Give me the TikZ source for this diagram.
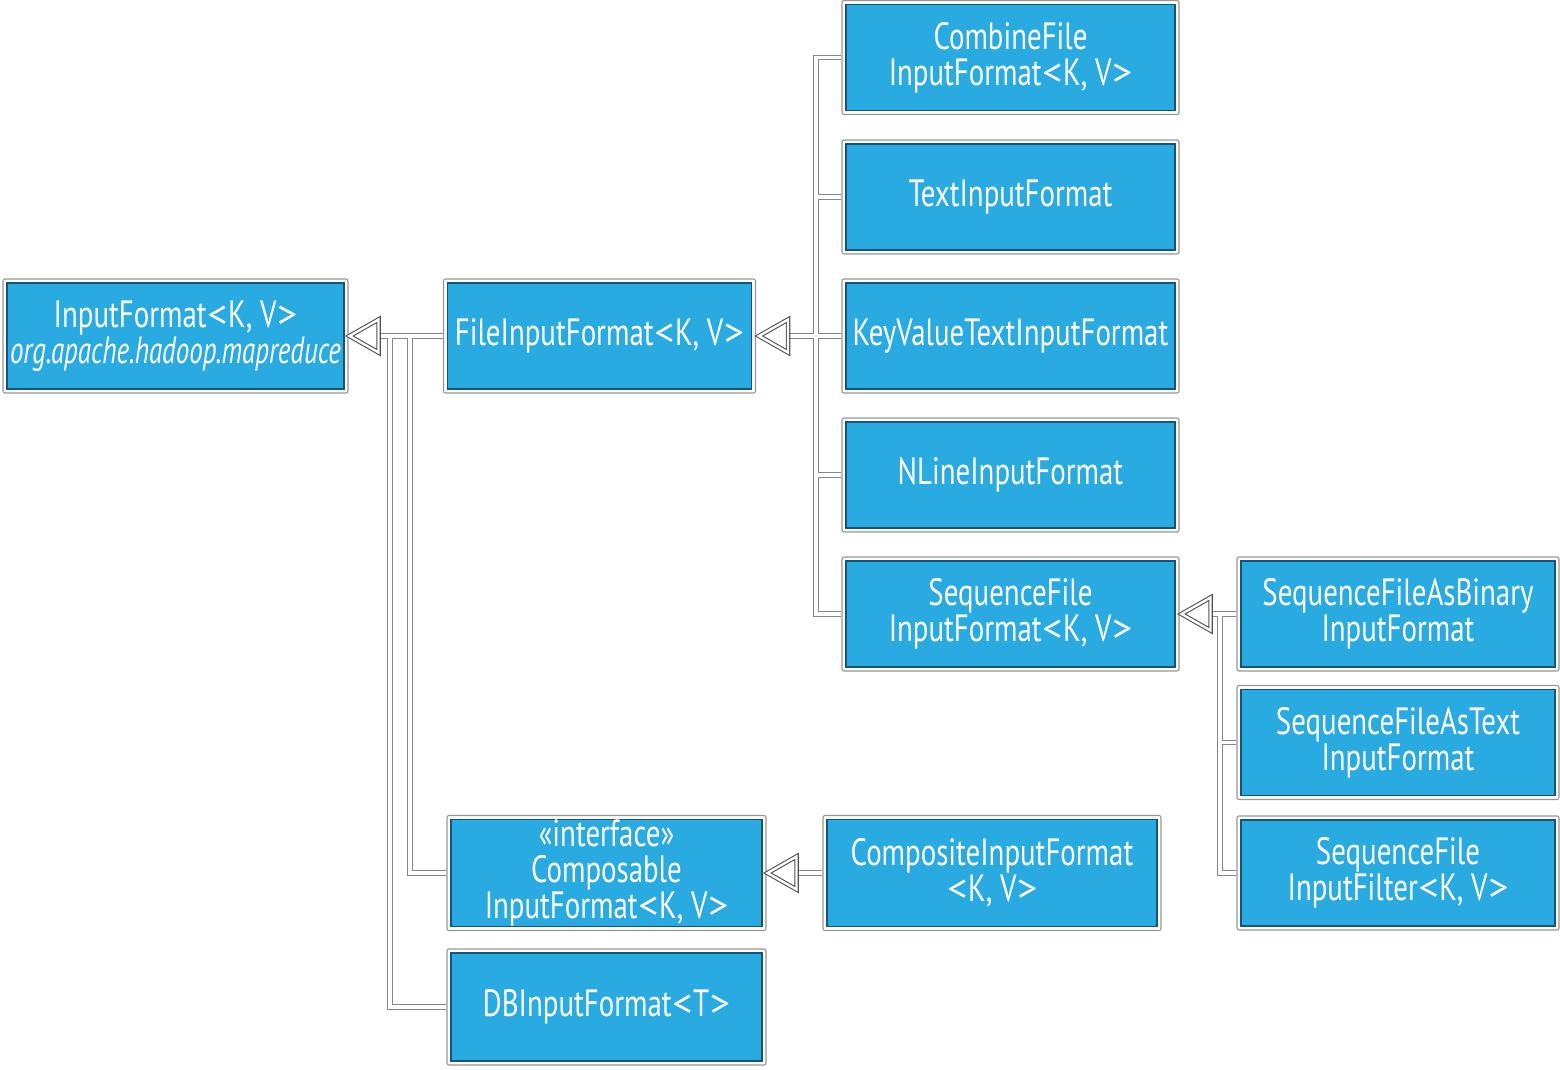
\documentclass[tikz,border=0pt]{standalone}
\usepackage{fontspec}
\setmainfont{PT Sans}[FakeStretch=0.76, ItalicFeatures={FakeStretch=0.71}]
\newfontfamily\signfont{PT Sans}[FakeStretch=1.05]
\usetikzlibrary{calc}
\definecolor{boxblue}{RGB}{41,170,225}
\definecolor{boxedge}{RGB}{22,85,120}
\definecolor{framegray}{RGB}{150,150,150}
\definecolor{linegray}{RGB}{135,135,135}
\definecolor{tipgray}{RGB}{80,80,80}
% wide angle brackets for the type parameters
\newcommand\lt{{\signfont\kern0.5pt<\kern0.5pt}}
\newcommand\gt{{\signfont\kern0.5pt>}}
\tikzset{
  cls/.style={draw=framegray, line width=0.8pt, fill=white, rounded corners=1.5pt,
    text=white, align=center, inner sep=0pt,
    font=\fontsize{28.5}{27}\selectfont,
    path picture={\draw[boxedge, line width=0.8pt, fill=boxblue, sharp corners]
      ([shift={(3pt,-3pt)}]path picture bounding box.north west) rectangle
      ([shift={(-3pt,3pt)}]path picture bounding box.south east);}},
  sz/.style 2 args={minimum width=#1*0.75pt, minimum height=#2*0.75pt},
  linkout/.style={draw=linegray, line width=4.4pt},
  linkin/.style={draw=white, line width=2.5pt},
  inh/.style={draw=tipgray, line width=0.8pt, double=white, double distance=1.8pt,
    fill=white, line join=miter},
}
% every generalisation link, drawn once per pass
\newcommand\hierlinks[1]{%
  \draw[#1] (fif.west) -- (bIF);
  \draw[#1] (cmp.west) -| (jA);
  \draw[#1] (db.west) -| (jB);
  \draw[#1] (cfi.west) -| (tR);
  \draw[#1] (tif.west) -| (tR);
  \draw[#1] (nli.west) -| (tR);
  \draw[#1] (sfi.west) -| (tR);
  \draw[#1] (kv.west) -- (bFIF);
  \draw[#1] (sab.west) -- (bSF);
  \draw[#1] (sat.west) -| (tS);
  \draw[#1] (sif.west) -| (tS);
  \draw[#1] (cif.west) -- (bCMP);
}
\newcommand\inhtip[1]{%
  \draw[inh] (#1) -- ++(29,-16.5) -- ++(0,33) -- cycle;
}
\begin{document}
\begin{tikzpicture}[x=0.75pt, y=-0.75pt]
\useasboundingbox (0,0) rectangle (1560,1070);

% classes
\node[cls, sz={345}{114}] (if) at (175.5,336)
  {InputFormat\lt K, V\gt\\\textit{org.apache.hadoop.mapreduce}};
\node[cls, sz={312}{114}] (fif) at (599.5,336) {FileInputFormat\lt K, V\gt};

\node[cls, sz={337}{114}] (cfi) at (1010.5,57.5) {CombineFile\\InputFormat\lt K, V\gt};
\node[cls, sz={337}{114}] (tif) at (1010.5,197) {TextInputFormat};
\node[cls, sz={337}{114}] (kv)  at (1010.5,336) {KeyValueTextInputFormat};
\node[cls, sz={337}{114}] (nli) at (1010.5,475) {NLineInputFormat};
\node[cls, sz={337}{114}] (sfi) at (1010.5,614) {SequenceFile\\InputFormat\lt K, V\gt};

\node[cls, sz={322}{114}] (sab) at (1398,614) {SequenceFileAsBinary\\InputFormat};
\node[cls, sz={322}{114}] (sat) at (1398,742.5) {SequenceFileAsText\\InputFormat};
\node[cls, sz={322}{114}] (sif) at (1398,873) {SequenceFile\\InputFilter\lt K, V\gt};

\node[cls, sz={319}{115}] (cmp) at (606.5,873)
  {«interface»\\Composable\\InputFormat\lt K, V\gt};
\node[cls, sz={338}{115}] (cif) at (992,873) {CompositeInputFormat\\\lt K, V\gt};
\node[cls, sz={319}{116}] (db)  at (606.5,1007) {DBInputFormat\lt T\gt};

% arrow tips and the points where the links meet
\coordinate (aIF)  at ($(if.east)+(1,0)$);
\coordinate (aFIF) at ($(fif.east)+(3,0)$);
\coordinate (aSF)  at ($(sfi.east)+(2,0)$);
\coordinate (aCMP) at ($(cmp.east)+(1,0)$);
\coordinate (bIF)  at ($(aIF)+(29,0)$);
\coordinate (bFIF) at ($(aFIF)+(29,0)$);
\coordinate (bSF)  at ($(aSF)+(29,0)$);
\coordinate (bCMP) at ($(aCMP)+(29,0)$);
\coordinate (jA) at (410,336);
\coordinate (jB) at (390,336);
\coordinate (tR) at (816,336);
\coordinate (tS) at (1220,614);

% links: grey casing first, white core second, so junctions merge
\hierlinks{linkout}
\hierlinks{linkin}

\inhtip{aIF}
\inhtip{aFIF}
\inhtip{aSF}
\inhtip{aCMP}
\end{tikzpicture}
\end{document}
